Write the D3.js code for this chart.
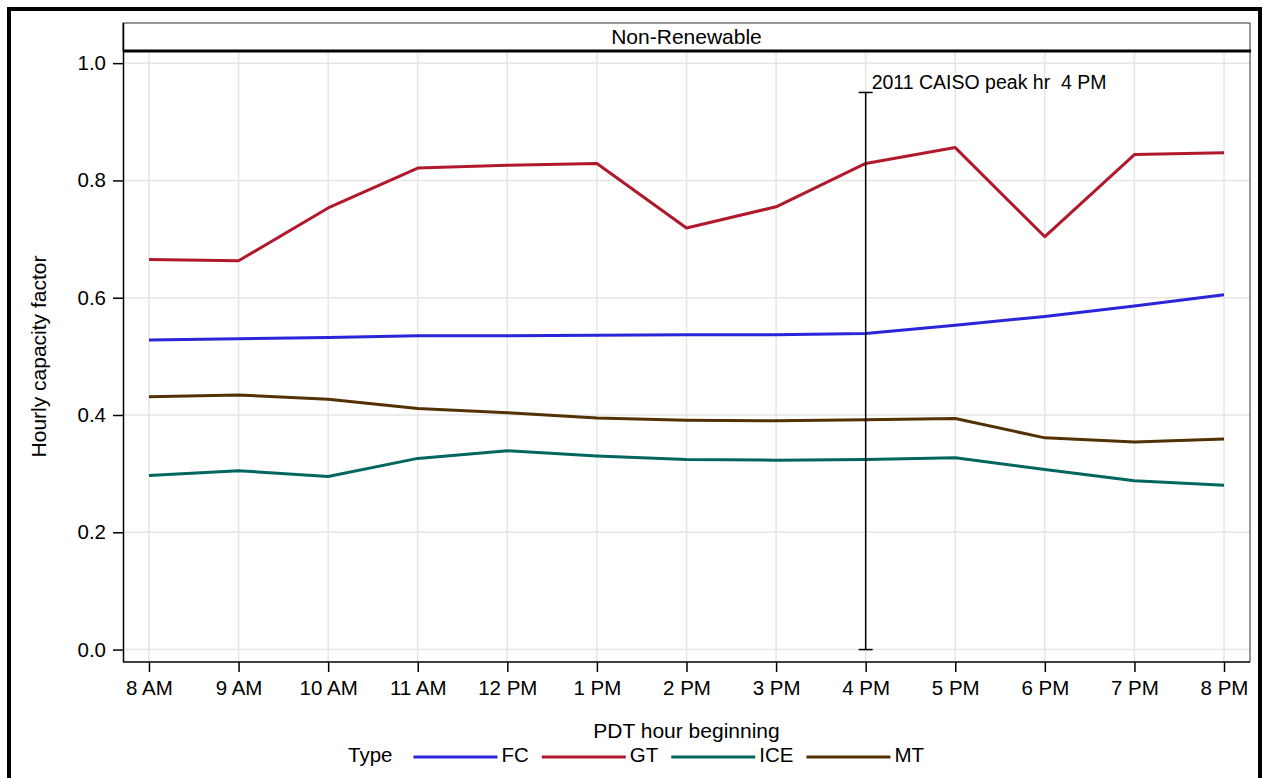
<!DOCTYPE html>
<html>
<head>
<meta charset="utf-8">
<script src="https://cdn.jsdelivr.net/npm/d3@7"></script>
<style>
  html, body { margin: 0; padding: 0; background: #fff; }
  svg { display: block; font-family: "Liberation Sans", Arial, sans-serif; }
  text { white-space: pre; }
</style>
</head>
<body>
<svg id="chart" width="1266" height="778"></svg>
<script>
const hours = ["8 AM","9 AM","10 AM","11 AM","12 PM","1 PM","2 PM","3 PM","4 PM","5 PM","6 PM","7 PM","8 PM"];
const fcValues  = [0.528,0.530,0.532,0.535,0.535,0.536,0.537,0.537,0.539,0.553,0.568,0.586,0.605];
const gtValues  = [0.665,0.663,0.753,0.821,0.826,0.829,0.719,0.755,0.829,0.856,0.704,0.844,0.847];
const iceValues = [0.297,0.305,0.295,0.326,0.339,0.330,0.324,0.323,0.324,0.327,0.307,0.288,0.280];
const mtValues  = [0.431,0.434,0.427,0.411,0.404,0.395,0.391,0.390,0.392,0.394,0.361,0.354,0.359];
const seriesNames = ["FC","GT","ICE","MT"];
const seriesColors = ["#2A25D9","#B2182B","#01665E","#543005"];
const yTicks = [0.0,0.2,0.4,0.6,0.8,1.0];
const panelTitle = "Non-Renewable";
const peakLabel = "2011 CAISO peak hr  4 PM";
const peakHour = "4 PM";
const peakTop = 0.95;

const series = [fcValues, gtValues, iceValues, mtValues].map((v,i)=>({name:seriesNames[i], color:seriesColors[i], values:v}));

const svg = d3.select("#chart");
const FS = 20.5, FL = 21;
const L = 123, R = 1250, headerTop = 23, T = 51, B = 662;

const x = d3.scalePoint().domain(hours).range([L, R]).padding(0.29);
const y = d3.scaleLinear().domain([-0.0212, 1.0207]).range([B, T]);

// outer frame
svg.append("rect").attr("x",9).attr("y",9).attr("width",1251).attr("height",800)
  .attr("fill","none").attr("stroke","#000").attr("stroke-width",4);

// grid
svg.append("g").selectAll("line.v").data(hours).join("line")
  .attr("x1",d=>x(d)).attr("x2",d=>x(d)).attr("y1",T).attr("y2",B)
  .attr("stroke","#e6e6e6").attr("stroke-width",1.5);
svg.append("g").selectAll("line.h").data(yTicks).join("line")
  .attr("x1",L).attr("x2",R).attr("y1",d=>y(d)).attr("y2",d=>y(d))
  .attr("stroke","#e6e6e6").attr("stroke-width",1.5);

// header box
svg.append("rect").attr("x",L).attr("y",headerTop).attr("width",R-L).attr("height",T-headerTop)
  .attr("fill","#fff").attr("stroke","#333").attr("stroke-width",1);
svg.append("text").attr("x",(L+R)/2).attr("y",(headerTop+T)/2+1).attr("text-anchor","middle")
  .attr("dominant-baseline","middle").attr("font-size",FL).text(panelTitle);

// frame of plot
svg.append("line").attr("x1",R).attr("x2",R).attr("y1",T).attr("y2",B).attr("stroke","#333").attr("stroke-width",1);

// axes
const yAxis = d3.axisLeft(y).tickValues(yTicks).tickFormat(d3.format(".1f")).tickSize(10).tickPadding(7);
const gy = svg.append("g").attr("transform",`translate(${L},0)`).call(yAxis);
gy.select(".domain").attr("d",`M0.5,${headerTop}V${B}`).attr("stroke","#000").attr("stroke-width",1.5);
const xAxis = d3.axisBottom(x).tickSize(10).tickPadding(8);
const gx = svg.append("g").attr("transform",`translate(0,${B})`).call(xAxis);
gx.select(".domain").attr("d",`M${L},0H${R}`).attr("stroke","#000").attr("stroke-width",1.5);
[gx, gy].forEach(g=>{
  g.selectAll("text").attr("font-size",FS).attr("fill","#000").attr("font-family","Liberation Sans, Arial, sans-serif");
  g.selectAll(".tick line").attr("stroke","#000").attr("stroke-width",1.5);
});

// thick header bottom line
svg.append("line").attr("x1",L).attr("x2",R+1).attr("y1",T).attr("y2",T).attr("stroke","#000").attr("stroke-width",3);

// axis labels
svg.append("text").attr("transform",`translate(46,${(T+B)/2}) rotate(-90)`).attr("text-anchor","middle")
  .attr("font-size",FL).text("Hourly capacity factor");
svg.append("text").attr("x",(L+R)/2).attr("y",738).attr("text-anchor","middle")
  .attr("font-size",FL).text("PDT hour beginning");

// series lines
const line = d3.line().x((d,i)=>x(hours[i])).y(d=>y(d));
svg.append("g").selectAll("path").data(series).join("path")
  .attr("d",d=>line(d.values)).attr("fill","none").attr("stroke",d=>d.color)
  .attr("stroke-width",3).attr("stroke-linejoin","round");

// peak reference
const px = x(peakHour);
const pk = svg.append("g").attr("stroke","#000").attr("stroke-width",1.5);
pk.append("line").attr("x1",px).attr("x2",px).attr("y1",y(peakTop)).attr("y2",y(0));
pk.append("line").attr("x1",px-7).attr("x2",px+7).attr("y1",y(peakTop)).attr("y2",y(peakTop));
pk.append("line").attr("x1",px-7).attr("x2",px+7).attr("y1",y(0)).attr("y2",y(0));
svg.append("text").attr("x",px+6).attr("y",y(peakTop)-3).attr("font-size",19.5)
  .attr("xml:space","preserve").text(peakLabel);

// legend
const lg = svg.append("g");
let cx = 348;
const ly = 757;
const tType = lg.append("text").attr("x",cx).attr("y",ly).attr("dominant-baseline","middle").attr("font-size",FS).text("Type");
cx += tType.node().getComputedTextLength() + 21;
series.forEach(s=>{
  lg.append("line").attr("x1",cx).attr("x2",cx+84).attr("y1",ly).attr("y2",ly).attr("stroke",s.color).attr("stroke-width",3);
  cx += 88;
  const t = lg.append("text").attr("x",cx).attr("y",ly).attr("dominant-baseline","middle").attr("font-size",FS).text(s.name);
  cx += t.node().getComputedTextLength() + 13;
});
</script>
</body>
</html>
